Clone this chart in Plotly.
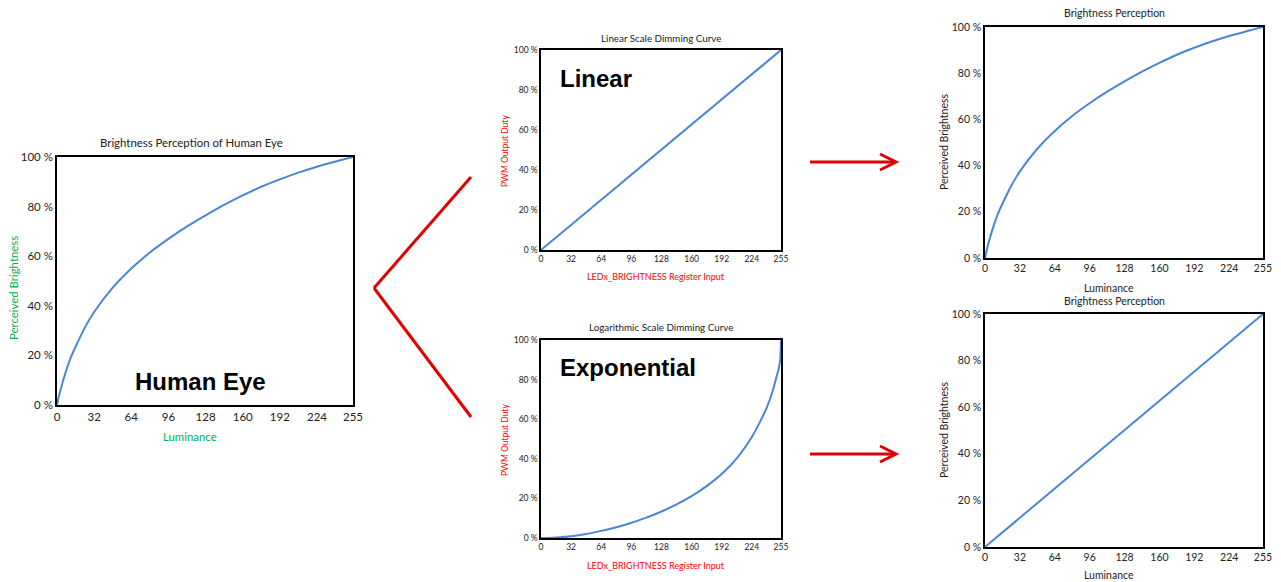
import plotly.graph_objects as go

W, H = 1281, 582

# ---------------- data ----------------
x_ticks = [0, 32, 64, 96, 128, 160, 192, 224, 255]
y_ticks = [0, 20, 40, 60, 80, 100]
y_tick_labels = ["0 %", "20 %", "40 %", "60 %", "80 %", "100 %"]

# perceived brightness curve
bright_x = [0, 1, 2, 4, 8, 12, 16, 24, 32, 48, 64, 80, 96, 112, 128, 144, 160, 176, 192, 208, 224, 240, 255]
bright_y = [0, 2.2, 4.2, 7.8, 14, 19.3, 23.5, 31.2, 37.5, 47.3, 55, 61.5, 67, 72, 76.5, 80.7, 84.5, 88, 91,
            93.7, 96.1, 98.2, 100]

# linear dimming curve
lin_x = [0, 255]
lin_y = [0, 100]

# exponential (logarithmic scale) dimming curve
exp_x = [0, 16, 32, 48, 64, 80, 96, 112, 128, 144, 160, 176, 192, 208, 224, 232, 240, 246, 250, 253, 254, 255]
exp_y = [0, 0.3, 0.9, 2.0, 3.6, 5.4, 7.7, 10.3, 13.4, 17.0, 21.2, 26.2, 32.3, 40.2, 51.0, 58.0, 66.0, 74.0, 81.0,
         86.5, 89.5, 100]

# perceived result of linear/exponential dimming
res1_x = bright_x
res1_y = bright_y
res2_x = [0, 255]
res2_y = [0, 100]

LINE = "#4a86d6"
GREEN = "#00b050"
RED = "#ff0000"
FONT = "Lato"


def px(x):
    return x / W


def py(y):
    return 1 - y / H


panels = [
    # (x, y, box l, r, top, bottom, tick font size)
    (bright_x, bright_y, 57, 353, 157, 405, 11.5),
    (lin_x, lin_y, 541, 781, 50, 250, 8.5),
    (exp_x, exp_y, 541, 781, 340, 538, 8.5),
    (res1_x, res1_y, 985, 1263, 27, 258, 10.5),
    (res2_x, res2_y, 985, 1263, 314, 547, 10.5),
]

fig = go.Figure()
for i, (xs, ys, l, r, t, b, fs) in enumerate(panels):
    n = "" if i == 0 else str(i + 1)
    fig.add_trace(go.Scatter(x=xs, y=ys, mode="lines",
                             line=dict(color=LINE, width=2, shape="spline", smoothing=0.8),
                             xaxis="x" + n, yaxis="y" + n, showlegend=False, hoverinfo="skip",
                             cliponaxis=True))
    fig.update_layout(**{
        "xaxis" + n: dict(domain=[px(l), px(r)], range=[0, 255], tickvals=x_ticks,
                          showgrid=False, zeroline=False, showline=True, mirror=True,
                          linecolor="black", linewidth=1.5, ticks="", anchor="y" + n, automargin=False,
                          fixedrange=True,
                          tickfont=dict(family=FONT, size=fs, color="#222")),
        "yaxis" + n: dict(domain=[py(b), py(t)], range=[0, 100], tickvals=y_ticks,
                          ticktext=y_tick_labels, automargin=False, fixedrange=True,
                          showgrid=False, zeroline=False, showline=True, mirror=True,
                          linecolor="black", linewidth=1.5, ticks="", anchor="x" + n,
                          tickfont=dict(family=FONT, size=fs, color="#222")),
    })

ann = []


def text(s, x, y, size, color="#222", angle=0, bold=False, family=FONT, xanchor="center"):
    ann.append(dict(text=("<b>%s</b>" % s) if bold else s, x=px(x), y=py(y), xref="paper", yref="paper",
                    showarrow=False, textangle=angle, xanchor=xanchor, yanchor="middle",
                    font=dict(family=family, size=size, color=color)))


# panel titles
text("Brightness Perception of Human Eye", 191, 142, 11.4)
text("Linear Scale Dimming Curve", 661, 38, 9.8)
text("Logarithmic Scale Dimming Curve", 661, 327, 9.8)
text("Brightness Perception", 1114, 13, 10.5)
text("Brightness Perception", 1114, 301, 10.5)

# axis titles
text("Luminance", 190, 436, 11.4, GREEN)
text("Perceived Brightness", 13, 288, 11.4, GREEN, angle=-90)
text("LEDx_BRIGHTNESS Register Input", 656, 276, 9, RED)
text("PWM Output Duty", 505, 151, 8.5, RED, angle=-90)
text("LEDx_BRIGHTNESS Register Input", 656, 565, 9, RED)
text("PWM Output Duty", 505, 440, 8.5, RED, angle=-90)
text("Luminance", 1109, 288, 10.5)
text("Perceived Brightness", 944, 142, 10.5, angle=-90)
text("Luminance", 1109, 575, 10.5)
text("Perceived Brightness", 944, 430, 10.5, angle=-90)

# big labels
text("Human Eye", 200, 381, 24, "black", bold=True, family="Liberation Sans")
text("Linear", 558, 79, 24, "black", bold=True, family="Liberation Sans", xanchor="left")
text("Exponential", 558, 367, 24, "black", bold=True, family="Liberation Sans", xanchor="left")

shapes = []
ARROW_RED = "#e00000"


def seg(x0, y0, x1, y1):
    shapes.append(dict(type="line", xref="paper", yref="paper", x0=px(x0), y0=py(y0), x1=px(x1), y1=py(y1),
                       line=dict(color=ARROW_RED, width=3)))


# V connector
seg(471, 177, 374, 288)
seg(374, 288, 471, 417)

# arrows
for ay in (162, 454):
    seg(810, ay, 895, ay)
    shapes.append(dict(type="path", xref="paper", yref="paper",
                       path="M %f,%f L %f,%f L %f,%f" % (px(880), py(ay - 8), px(896), py(ay), px(880), py(ay + 8)),
                       line=dict(color=ARROW_RED, width=3)))

fig.update_layout(width=W, height=H, margin=dict(l=0, r=0, t=0, b=0, pad=0, autoexpand=False),
                  paper_bgcolor="white", plot_bgcolor="white",
                  annotations=ann, shapes=shapes, showlegend=False)

fig.write_html("out.html", config={"displayModeBar": False},
               post_script="document.body.style.margin='0';document.body.style.overflow='hidden';")
